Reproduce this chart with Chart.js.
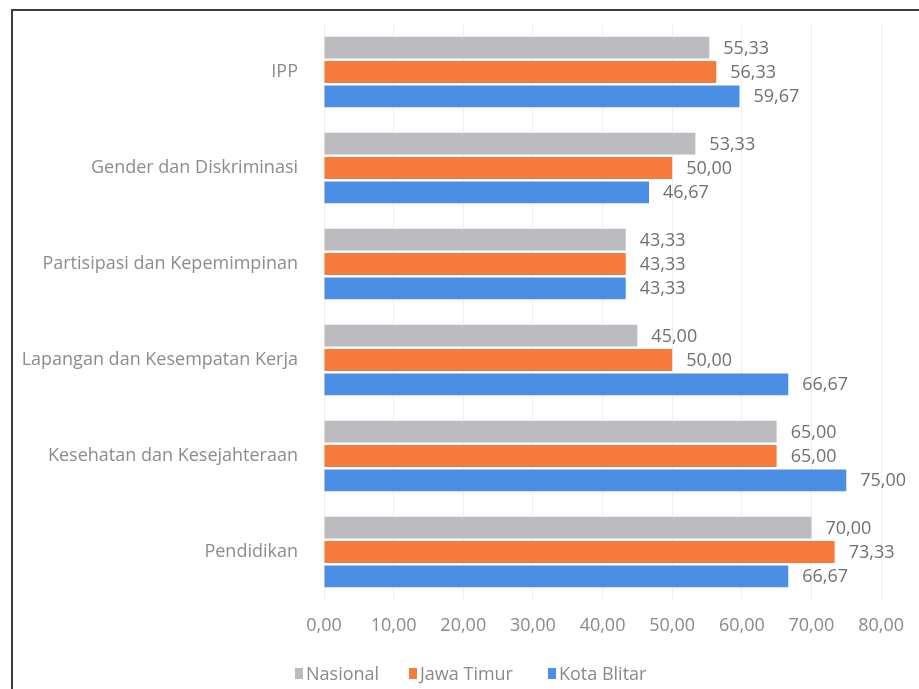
<!DOCTYPE html>
<html lang="id">
<head>
    <meta charset="UTF-8">
    <title>IPP Kota Blitar</title>
    <style>
        html, body {
            margin: 0;
            padding: 0;
            background-color: #fff;
            overflow: hidden;
        }

        #wrap {
            position: relative;
            width: 919px;
            height: 689px;
        }

        #frame {
            position: absolute;
            left: 11px;
            top: 9px;
            width: 940px;
            height: 700px;
            border-left: 2px solid #3c3c3c;
            border-top: 2px solid #3c3c3c;
        }

        canvas {
            position: absolute;
            left: 0;
            top: 0;
        }

        #legend {
            position: absolute;
            left: 0;
            top: 661px;
            width: 919px;
            height: 26px;
            font-family: "Open Sans", sans-serif;
            font-size: 18px;
            color: #8a8a8a;
        }

        #legend span.item {
            position: absolute;
            top: 0;
            display: flex;
            align-items: center;
            white-space: nowrap;
        }

        #legend span.box {
            display: inline-block;
            width: 8px;
            height: 11px;
            margin-right: 3px;
        }
    </style>
</head>
<body>
    <div id="wrap">
        <div id="frame"></div>
        <canvas id="ippChart" width="919" height="689"></canvas>
        <div id="legend"></div>
    </div>

    <script src="https://cdn.jsdelivr.net/npm/chart.js"></script>
    <script>
        const categories = [
            'IPP',
            'Gender dan Diskriminasi',
            'Partisipasi dan Kepemimpinan',
            'Lapangan dan Kesempatan Kerja',
            'Kesehatan dan Kesejahteraan',
            'Pendidikan'
        ];
        const seriesNames = ['Nasional', 'Jawa Timur', 'Kota Blitar'];
        const nasional = [55.33, 53.33, 43.33, 45.00, 65.00, 70.00];
        const jawaTimur = [56.33, 50.00, 43.33, 50.00, 65.00, 73.33];
        const kotaBlitar = [59.67, 46.67, 43.33, 66.67, 75.00, 66.67];
        const xTicks = [0, 10, 20, 30, 40, 50, 60, 70, 80];
        const colors = ['#bcbcc0', '#f57a3b', '#4b8ee6'];
        const legendLeft = [295, 409, 548];

        const fmt = v => v.toFixed(2).replace('.', ',');

        // value text at the end of every bar
        const barValues = {
            id: 'barValues',
            afterDatasetsDraw(chart) {
                const ctx = chart.ctx;
                ctx.save();
                ctx.font = '18px "Open Sans", sans-serif';
                ctx.fillStyle = '#707070';
                ctx.textAlign = 'left';
                ctx.textBaseline = 'middle';
                chart.data.datasets.forEach((ds, i) => {
                    chart.getDatasetMeta(i).data.forEach((bar, j) => {
                        ctx.fillText(fmt(ds.data[j]), bar.x + 14, bar.y + 1);
                    });
                });
                ctx.restore();
            }
        };

        const ctx = document.getElementById('ippChart').getContext('2d');
        const chart = new Chart(ctx, {
            type: 'bar',
            data: {
                labels: categories,
                datasets: [nasional, jawaTimur, kotaBlitar].map((d, i) => ({
                    label: seriesNames[i],
                    data: d,
                    backgroundColor: colors[i],
                    borderWidth: 0,
                    categoryPercentage: 0.76,
                    barPercentage: 0.9
                }))
            },
            options: {
                indexAxis: 'y',
                responsive: false,
                animation: false,
                layout: {
                    padding: { top: 24, right: 36, bottom: 0, left: 0 }
                },
                plugins: {
                    legend: { display: false },
                    tooltip: { enabled: false }
                },
                scales: {
                    x: {
                        min: 0,
                        max: 80,
                        afterBuildTicks: scale => {
                            scale.ticks = xTicks.map(v => ({ value: v }));
                        },
                        afterFit: scale => {
                            scale.height = 89;
                        },
                        grid: {
                            color: '#efefef',
                            drawTicks: false
                        },
                        border: { display: false },
                        ticks: {
                            padding: 15,
                            color: '#8a8a8a',
                            font: { family: '"Open Sans", sans-serif', size: 18 },
                            callback: v => fmt(v)
                        }
                    },
                    y: {
                        // fixed label column; the tick padding must not push the plot down
                        afterFit: scale => {
                            scale.width = 324;
                            scale.paddingTop = 0;
                            scale.paddingBottom = 0;
                        },
                        grid: { display: false, drawTicks: false },
                        border: { display: false },
                        ticks: {
                            padding: 26,
                            color: '#8c8c8c',
                            font: { family: '"Open Sans", sans-serif', size: 18 }
                        }
                    }
                }
            },
            plugins: [barValues]
        });

        // legend under the axis
        const legend = document.getElementById('legend');
        seriesNames.forEach((name, i) => {
            const item = document.createElement('span');
            item.className = 'item';
            item.style.left = legendLeft[i] + 'px';
            const box = document.createElement('span');
            box.className = 'box';
            box.style.backgroundColor = colors[i];
            item.appendChild(box);
            item.appendChild(document.createTextNode(name));
            legend.appendChild(item);
        });
    </script>
</body>
</html>
